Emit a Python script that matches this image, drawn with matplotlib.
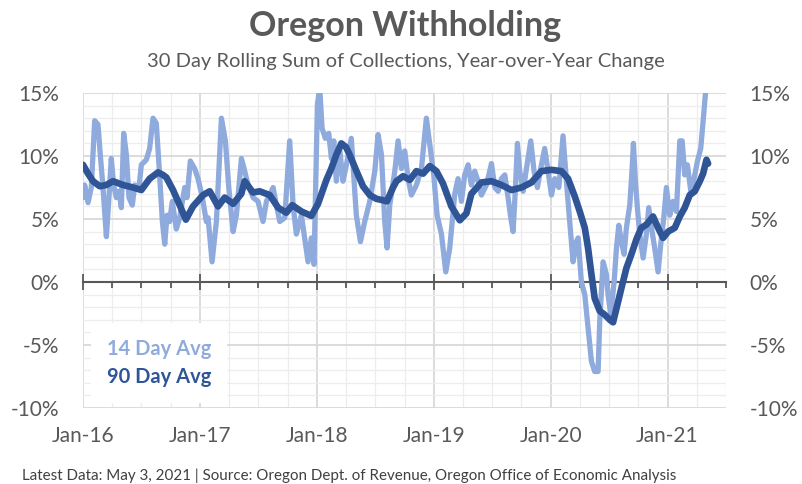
import matplotlib
matplotlib.use("Agg")
import matplotlib.pyplot as plt
from matplotlib.ticker import FixedLocator, MultipleLocator, FuncFormatter

# ---------------- data (decimal years, % year-over-year) ----------------
light_year = [2016.006, 2016.014, 2016.043, 2016.071, 2016.100, 2016.128, 2016.148, 2016.171,
              2016.200, 2016.222, 2016.242, 2016.262, 2016.285, 2016.308, 2016.328, 2016.348,
              2016.371, 2016.393, 2016.422, 2016.442, 2016.479, 2016.499, 2016.542, 2016.570,
              2016.599, 2016.627, 2016.650, 2016.679, 2016.699, 2016.719, 2016.741, 2016.764,
              2016.798, 2016.827, 2016.870, 2016.890, 2016.918, 2016.955, 2016.984, 2017.021,
              2017.055, 2017.070, 2017.104, 2017.141, 2017.184, 2017.218, 2017.247, 2017.284,
              2017.312, 2017.355, 2017.378, 2017.412, 2017.455, 2017.497, 2017.540, 2017.569,
              2017.626, 2017.654, 2017.683, 2017.726, 2017.768, 2017.797, 2017.825, 2017.868,
              2017.896, 2017.925, 2017.953, 2017.976, 2018.005, 2018.025, 2018.045, 2018.073,
              2018.102, 2018.125, 2018.145, 2018.167, 2018.195, 2018.224, 2018.253, 2018.295,
              2018.315, 2018.338, 2018.373, 2018.410, 2018.453, 2018.496, 2018.524, 2018.553,
              2018.581, 2018.601, 2018.624, 2018.667, 2018.695, 2018.724, 2018.752, 2018.781,
              2018.809, 2018.852, 2018.895, 2018.937, 2018.966, 2019.000, 2019.029, 2019.066,
              2019.103, 2019.137, 2019.180, 2019.208, 2019.237, 2019.265, 2019.294, 2019.322,
              2019.351, 2019.379, 2019.408, 2019.451, 2019.494, 2019.522, 2019.551, 2019.579,
              2019.608, 2019.636, 2019.659, 2019.679, 2019.699, 2019.716, 2019.736, 2019.765,
              2019.793, 2019.830, 2019.858, 2019.887, 2019.915, 2019.949, 2019.978, 2020.007,
              2020.035, 2020.070, 2020.106, 2020.135, 2020.163, 2020.192, 2020.220, 2020.235,
              2020.263, 2020.292, 2020.320, 2020.349, 2020.377, 2020.406, 2020.420, 2020.449,
              2020.477, 2020.491, 2020.514, 2020.543, 2020.563, 2020.583, 2020.605, 2020.628,
              2020.648, 2020.677, 2020.697, 2020.708, 2020.725, 2020.742, 2020.762, 2020.791,
              2020.819, 2020.839, 2020.868, 2020.890, 2020.919, 2020.942, 2020.970, 2020.990,
              2021.019, 2021.047, 2021.076, 2021.105, 2021.125, 2021.147, 2021.170, 2021.199,
              2021.227, 2021.256, 2021.284, 2021.304, 2021.324, 2021.347]
light_val = [6.7, 7.7, 6.3, 7.5, 12.8, 12.5, 10.1, 7.5,
             3.6, 6.7, 9.8, 7.7, 6.7, 7.2, 5.9, 11.8,
             10.1, 6.7, 6.1, 7.7, 7.5, 9.3, 9.7, 10.6,
             13.0, 12.6, 9.3, 4.8, 3.0, 5.3, 4.8, 6.4,
             4.2, 5.1, 7.5, 6.7, 9.6, 9.0, 8.2, 6.7,
             4.8, 5.1, 1.6, 4.8, 13.0, 11.2, 7.5, 4.0,
             5.3, 9.8, 9.0, 7.7, 6.7, 6.4, 4.8, 6.4,
             7.5, 6.1, 4.8, 5.1, 11.2, 6.1, 3.8, 5.3,
             3.5, 1.6, 3.5, 1.4, 14.1, 15.4, 12.2, 11.4,
             11.8, 9.8, 11.2, 8.0, 10.6, 8.0, 9.3, 11.4,
             8.5, 5.3, 3.2, 4.8, 6.4, 8.8, 11.7, 10.1,
             4.8, 2.7, 6.1, 8.8, 11.2, 9.0, 10.4, 8.2,
             6.9, 7.7, 9.0, 13.0, 10.9, 8.5, 5.3, 3.8,
             0.8, 2.7, 7.0, 8.2, 6.4, 8.5, 9.3, 7.7,
             8.8, 8.0, 6.9, 7.7, 9.4, 7.5, 7.2, 8.2,
             8.5, 6.7, 5.1, 4.0, 7.5, 11.0, 8.8, 7.2,
             9.0, 11.2, 8.8, 7.5, 9.0, 10.6, 8.8, 6.9,
             8.2, 7.5, 11.6, 8.0, 4.8, 1.6, 3.2, 3.5,
             0.0, -1.0, -3.6, -6.3, -7.1, -7.1, -3.1, 1.6,
             0.6, -1.0, -2.6, 0.0, 2.7, 4.5, 3.2, 2.2,
             4.3, 6.1, 9.0, 11.0, 8.0, 5.9, 3.8, 1.9,
             3.8, 5.9, 4.0, 2.7, 0.8, 3.0, 5.3, 7.5,
             5.3, 6.4, 5.6, 11.2, 11.2, 8.5, 9.3, 7.2,
             8.2, 9.6, 10.6, 12.8, 14.9, 16.5]

dark_year = [2016.000, 2016.043, 2016.086, 2016.143, 2016.200, 2016.257, 2016.342, 2016.428,
             2016.499, 2016.570, 2016.642, 2016.684, 2016.713, 2016.770, 2016.827, 2016.880,
             2016.941, 2017.027, 2017.084, 2017.155, 2017.212, 2017.284, 2017.354, 2017.383,
             2017.454, 2017.511, 2017.597, 2017.669, 2017.739, 2017.790, 2017.868, 2017.953,
             2018.010, 2018.082, 2018.124, 2018.167, 2018.210, 2018.250, 2018.281, 2018.339,
             2018.395, 2018.453, 2018.510, 2018.560, 2018.600, 2018.652, 2018.681, 2018.738,
             2018.795, 2018.852, 2018.909, 2018.966, 2019.023, 2019.080, 2019.151, 2019.223,
             2019.280, 2019.322, 2019.408, 2019.494, 2019.579, 2019.665, 2019.750, 2019.836,
             2019.921, 2020.007, 2020.092, 2020.149, 2020.206, 2020.249, 2020.292, 2020.320,
             2020.349, 2020.377, 2020.420, 2020.463, 2020.506, 2020.534, 2020.563, 2020.605,
             2020.648, 2020.691, 2020.734, 2020.776, 2020.819, 2020.876, 2020.919, 2020.962,
             2021.005, 2021.062, 2021.105, 2021.147, 2021.190, 2021.233, 2021.276, 2021.304,
             2021.333, 2021.347]
dark_val = [9.3, 8.6, 8.0, 7.6, 7.7, 8.0, 7.7, 7.5,
            7.3, 8.2, 8.7, 8.5, 8.3, 7.3, 6.1, 4.95,
            6.0, 6.9, 7.2, 6.0, 6.7, 6.2, 7.0, 8.0,
            7.1, 7.2, 6.9, 5.9, 5.5, 6.1, 5.6, 5.25,
            6.2, 8.1, 9.0, 10.1, 11.0, 10.7, 10.1, 8.8,
            7.6, 6.9, 6.6, 6.5, 6.4, 7.5, 8.0, 8.4,
            8.1, 8.8, 8.6, 9.2, 8.8, 7.8, 6.0, 4.9,
            5.45, 7.0, 7.9, 8.0, 7.7, 7.3, 7.5, 7.9,
            8.8, 8.9, 8.8, 8.2, 6.8, 5.6, 4.3, 2.7,
            0.6, -1.3, -2.3, -2.6, -3.0, -3.2, -2.1, -0.5,
            1.1, 2.2, 3.4, 4.3, 4.55, 5.2, 4.3, 3.5,
            4.0, 4.3, 5.2, 5.9, 6.9, 7.2, 8.0, 8.6,
            9.7, 9.4]

year_ticks = [2016, 2017, 2018, 2019, 2020, 2021]
year_labels = ["Jan-16", "Jan-17", "Jan-18", "Jan-19", "Jan-20", "Jan-21"]
series_names = ["14 Day Avg", "90 Day Avg"]
title = "Oregon Withholding"
subtitle = "30 Day Rolling Sum of Collections, Year-over-Year Change"
footnote = ("Latest Data: May 3, 2021 | Source: Oregon Dept. of Revenue, "
            "Oregon Office of Economic Analysis")

# ---------------- style ----------------
FONT = ["Lato", "DejaVu Sans"]
plt.rcParams["font.family"] = FONT
GRAY = "#595959"
LIGHT = "#8FAADC"
DARK = "#2F5597"

fig = plt.figure(figsize=(8.02, 4.84), dpi=100)
ax = fig.add_axes([83 / 802, 1 - 408 / 484, 643 / 802, 315 / 484])

l1, = ax.plot(light_year, light_val, color=LIGHT, lw=3.8, zorder=2,
              solid_joinstyle="round", solid_capstyle="round")
l2, = ax.plot(dark_year, dark_val, color=DARK, lw=4.8, zorder=3,
              solid_joinstyle="round", solid_capstyle="round")

ax.set_xlim(2016, 2021.5)
ax.set_ylim(-10, 15)

# y axis
ax.yaxis.set_major_locator(MultipleLocator(5))
ax.yaxis.set_minor_locator(MultipleLocator(1))
ax.yaxis.set_major_formatter(FuncFormatter(lambda v, p: f"{v:.0f}%"))
ax.tick_params(axis="y", which="both", length=0, labelleft=True, labelright=True,
               labelsize=15, colors=GRAY, pad=17)

# x axis (tick marks on the zero line)
ax.xaxis.set_major_locator(FixedLocator(year_ticks))
ax.xaxis.set_minor_locator(MultipleLocator(0.25))
ax.tick_params(axis="x", which="major", direction="inout", length=11, width=1.3,
               color=GRAY, labelbottom=False)
ax.tick_params(axis="x", which="minor", direction="out", length=4, width=1.3, color=GRAY)
for s in ["top", "left", "right"]:
    ax.spines[s].set_visible(False)
ax.spines["bottom"].set_position(("data", 0))
ax.spines["bottom"].set_color(GRAY)
ax.spines["bottom"].set_linewidth(1.5)
ax.spines["bottom"].set_zorder(1.5)

sec = ax.secondary_xaxis("bottom")
sec.set_xticks(year_ticks)
sec.set_xticklabels(year_labels)
sec.tick_params(length=0, labelsize=15, colors=GRAY, pad=13)
sec.spines["bottom"].set_visible(False)

ax.grid(which="major", color="#D9D9D9", lw=1.3)
ax.grid(which="minor", color="#EDEDED", lw=0.9)
ax.set_axisbelow(True)

leg = ax.legend(handles=[l1, l2], labels=series_names, loc="lower left",
                bbox_to_anchor=(0.012, 0.015), borderaxespad=0,
                handlelength=0, handletextpad=0, frameon=True, facecolor="white",
                edgecolor="none", framealpha=1, fancybox=False,
                prop={"family": FONT, "weight": "bold", "size": 14.5},
                labelcolor="linecolor", borderpad=0.8, labelspacing=0.4)
for h in leg.legend_handles:
    h.set_visible(False)
leg.set_zorder(5)

fig.text(0.505, 1 - 36 / 484, title, ha="center", va="baseline", fontsize=24.5,
         weight="bold", color=GRAY)
fig.text(0.506, 1 - 67 / 484, subtitle, ha="center", va="baseline", fontsize=14.5,
         color=GRAY)
fig.text(22 / 802, 1 - 476 / 484, footnote, ha="left", va="center", fontsize=10.9,
         color="#404040")

fig.savefig("out.png", dpi=100)
